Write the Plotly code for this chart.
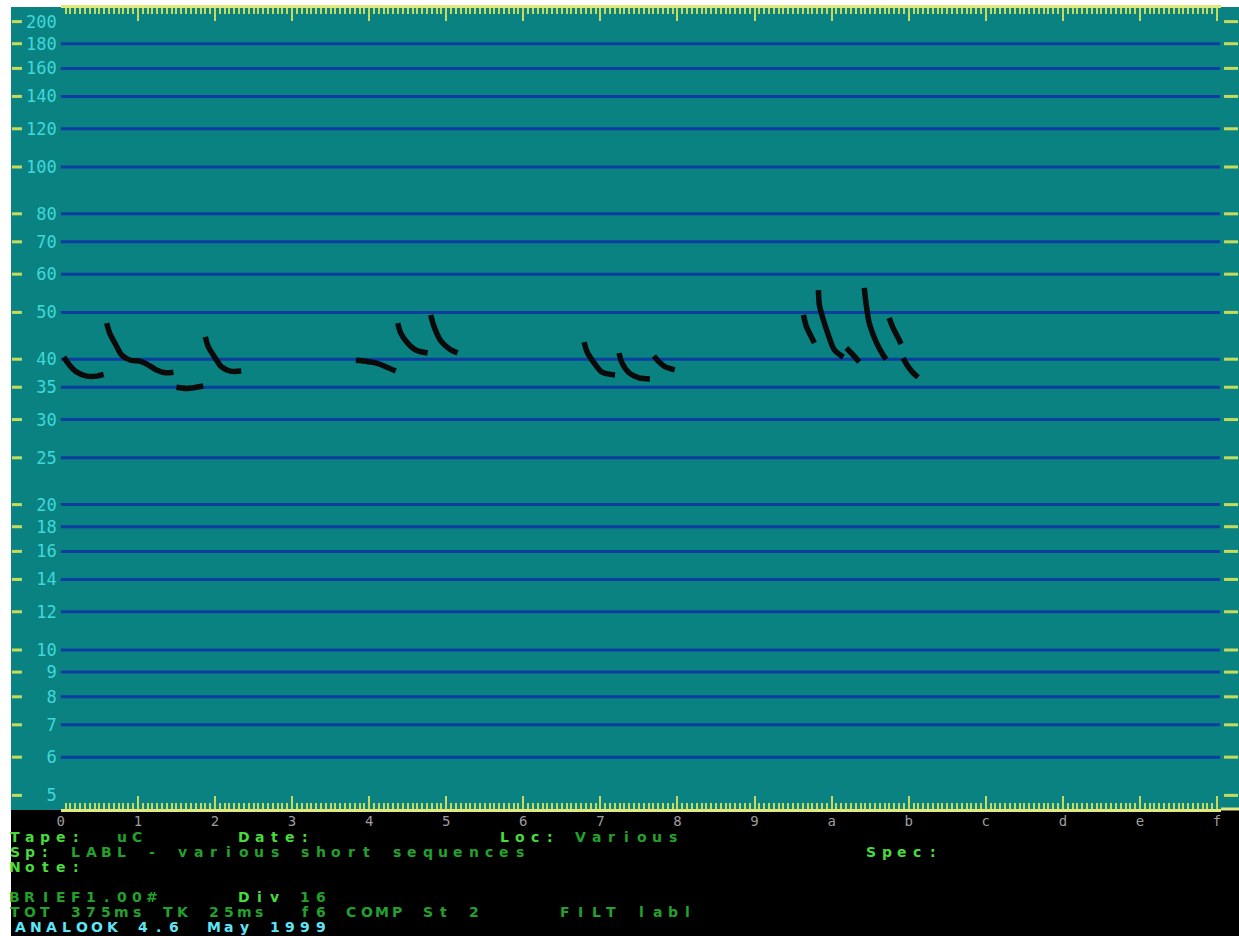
import plotly.graph_objects as go

W, H = 1239, 936

# ---------------- data ----------------
freq_ticks = [5, 6, 7, 8, 9, 10, 12, 14, 16, 18, 20, 25, 30, 35, 40,
              50, 60, 70, 80, 100, 120, 140, 160, 180, 200]
grid_freqs = freq_ticks[1:-1]
time_ticks = list(range(16))
time_labels = list("0123456789abcdef")
subdivisions = 16

# bat call traces: time (screen divisions) and frequency (kHz)
call_times = [
    [0.039, 0.129, 0.207, 0.336, 0.466, 0.556],
    [0.595, 0.634, 0.711, 0.789, 0.905, 1.035, 1.138, 1.241, 1.358, 1.461],
    [1.500, 1.629, 1.759, 1.849],
    [1.875, 1.914, 2.004, 2.082, 2.198, 2.341],
    [3.828, 3.957, 4.086, 4.216, 4.345],
    [4.371, 4.410, 4.500, 4.604, 4.759],
    [4.798, 4.849, 4.927, 5.043, 5.147],
    [6.789, 6.828, 6.918, 7.022, 7.190],
    [7.242, 7.280, 7.371, 7.500, 7.642],
    [7.694, 7.759, 7.836, 7.965],
    [9.634, 9.673, 9.737, 9.776],
    [9.828, 9.841, 9.893, 9.957, 10.035, 10.151],
    [10.190, 10.255, 10.358],
    [10.423, 10.449, 10.488, 10.578, 10.668, 10.707],
    [10.746, 10.798, 10.862, 10.901],
    [10.927, 10.992, 11.056, 11.121],
]
call_freqs = [
    [40.4, 38.6, 37.6, 36.9, 36.9, 37.2],
    [47.5, 45.3, 42.9, 40.8, 39.8, 39.6, 38.9, 38.0, 37.5, 37.6],
    [35.0, 34.8, 35.0, 35.2],
    [44.5, 42.4, 40.2, 38.6, 37.8, 37.8],
    [39.8, 39.6, 39.3, 38.6, 37.8],
    [47.5, 45.3, 43.2, 41.8, 41.2],
    [49.4, 46.4, 43.7, 42.0, 41.2],
    [43.4, 41.4, 39.3, 37.6, 37.1],
    [41.2, 39.3, 37.5, 36.6, 36.4],
    [40.6, 39.5, 38.6, 38.0],
    [49.4, 46.7, 44.5, 43.2],
    [55.6, 51.8, 48.2, 44.9, 41.8, 40.4],
    [42.2, 41.2, 39.5],
    [56.2, 51.8, 47.5, 43.4, 40.8, 40.0],
    [48.7, 46.4, 44.3, 43.0],
    [40.2, 38.6, 37.5, 36.7],
]

# status panel text: (row, column, text, style)
info_rows = [
    (0, 0, "Tape:", "key"), (0, 7, "uC", "val"), (0, 15, "Date:", "key"),
    (0, 32, "Loc:", "key"), (0, 37, "Various", "val"),
    (1, 0, "Sp:", "key"), (1, 4, "LABL - various short sequences", "val"),
    (1, 56, "Spec:", "key"),
    (2, 0, "Note:", "key"),
    (4, 0, "BRIEF1.00#", "val"), (4, 15, "Div", "key"), (4, 19, "16", "val"),
    (5, 0, "TOT 375ms TK 25ms  f6 COMP St 2     FILT labl", "val"),
    (6, 0.4, "ANALOOK 4.6", "ver"), (6, 13, "May 1999", "ver"),
]

# ---------------- styling ----------------
TEAL = "#0a8282"
GRID = "#0d3d9f"
FRAME = "#e2e87c"
TICK = "#c6da5c"
CYAN = "#3fd8d8"
GREY = "#9e9e9e"
STYLE_COLORS = {"key": "#46dc3c", "val": "#22a22c", "ver": "#5ee6f6"}

# screen geometry (pixels)
PLOT_L, PLOT_R, PLOT_T, PLOT_B = 57, 1221, 8, 809
PX_PER_DIV = 77.333
PX_PER_DECADE = 483.0
PY_100K = 167.0
SCREEN_L, SCREEN_T = 7, 7
PANEL_TOP = 810
CHAR_W, CHAR_X0 = 15.35, 3.0
ROW_Y0, ROW_DY = 836.5, 15.0
TEXT_SIZE = 14

x_range = [0, (PLOT_R - PLOT_L) / PX_PER_DIV]
log_top = 2 + (PY_100K - PLOT_T) / PX_PER_DECADE
log_bot = log_top - (PLOT_B - PLOT_T) / PX_PER_DECADE


def px(x):
    return x / W


def py(y):
    return 1 - y / H


fig = go.Figure()

for t, f in zip(call_times, call_freqs):
    fig.add_trace(go.Scatter(
        x=t, y=f, mode="lines",
        line=dict(color="#0a0a0a", width=5.5, shape="spline", smoothing=0.8),
        showlegend=False, hoverinfo="skip",
    ))

shapes = []
# teal display screen and the black status panel below it
shapes.append(dict(type="rect", xref="paper", yref="paper", x0=px(SCREEN_L), x1=1,
                   y0=py(PANEL_TOP), y1=py(SCREEN_T),
                   fillcolor=TEAL, line_width=0, layer="below"))
shapes.append(dict(type="rect", xref="paper", yref="paper", x0=px(SCREEN_L), x1=1, y0=0,
                   y1=py(PANEL_TOP), fillcolor="black", line_width=0, layer="below"))

# frequency grid lines
for f in grid_freqs:
    shapes.append(dict(type="line", xref="paper", yref="y", x0=px(PLOT_L), x1=px(PLOT_R - 1),
                       y0=f, y1=f, line=dict(color=GRID, width=3), layer="below"))

# short side ticks at each frequency level
for f in freq_ticks:
    shapes.append(dict(type="line", xref="paper", yref="y", x0=px(8), x1=px(18),
                       y0=f, y1=f, line=dict(color=TICK, width=3)))
    shapes.append(dict(type="line", xref="paper", yref="y", x0=px(1224), x1=px(1238),
                       y0=f, y1=f, line=dict(color=TICK, width=3)))

# extension of the baseline to the right edge
shapes.append(dict(type="line", xref="paper", yref="paper", x0=px(PLOT_R), x1=1,
                   y0=py(PLOT_B), y1=py(PLOT_B), line=dict(color=FRAME, width=3)))

annotations = []
for row, col, text, style in info_rows:
    yc = ROW_Y0 + row * ROW_DY
    for i, ch in enumerate(text):
        if ch == " ":
            continue
        xc = CHAR_X0 + (col + i + 0.5) * CHAR_W
        annotations.append(dict(
            x=px(xc), y=py(yc), xref="paper", yref="paper",
            text=ch, showarrow=False, xanchor="center", yanchor="middle",
            borderpad=0,
            font=dict(family="DejaVu Sans", size=TEXT_SIZE,
                      color=STYLE_COLORS[style], weight="bold"),
        ))

fig.update_layout(
    width=W, height=H,
    margin=dict(l=0, r=0, t=0, b=0, pad=0),
    paper_bgcolor="white",
    plot_bgcolor="rgba(0,0,0,0)",
    showlegend=False,
    shapes=shapes,
    annotations=annotations,
    xaxis=dict(
        domain=[px(PLOT_L), px(PLOT_R)],
        range=x_range,
        showgrid=False, zeroline=False,
        showline=True, linecolor=FRAME, linewidth=3,
        mirror="allticks",
        ticks="inside", ticklen=13, tickwidth=2, tickcolor=TICK,
        tickmode="linear", tick0=0, dtick=1,
        labelalias={str(v): lab for v, lab in zip(time_ticks, time_labels)},
        tickfont=dict(family="DejaVu Sans Mono", size=14, color=GREY),
        ticklabelstandoff=-3,
        minor=dict(ticks="inside", ticklen=6, tickwidth=2, tickcolor=TICK,
                   tick0=0, dtick=1 / subdivisions, showgrid=False),
    ),
    yaxis=dict(
        domain=[py(PLOT_B), py(PLOT_T)],
        type="log",
        range=[log_bot, log_top],
        showgrid=False, zeroline=False, showline=False,
        ticks="",
        tickmode="array",
        tickvals=freq_ticks,
        ticktext=[str(v) for v in freq_ticks],
        tickfont=dict(family="DejaVu Sans Mono", size=17, color=CYAN),
        ticklabelstandoff=3,
    ),
)

fig.write_html("out.html")
